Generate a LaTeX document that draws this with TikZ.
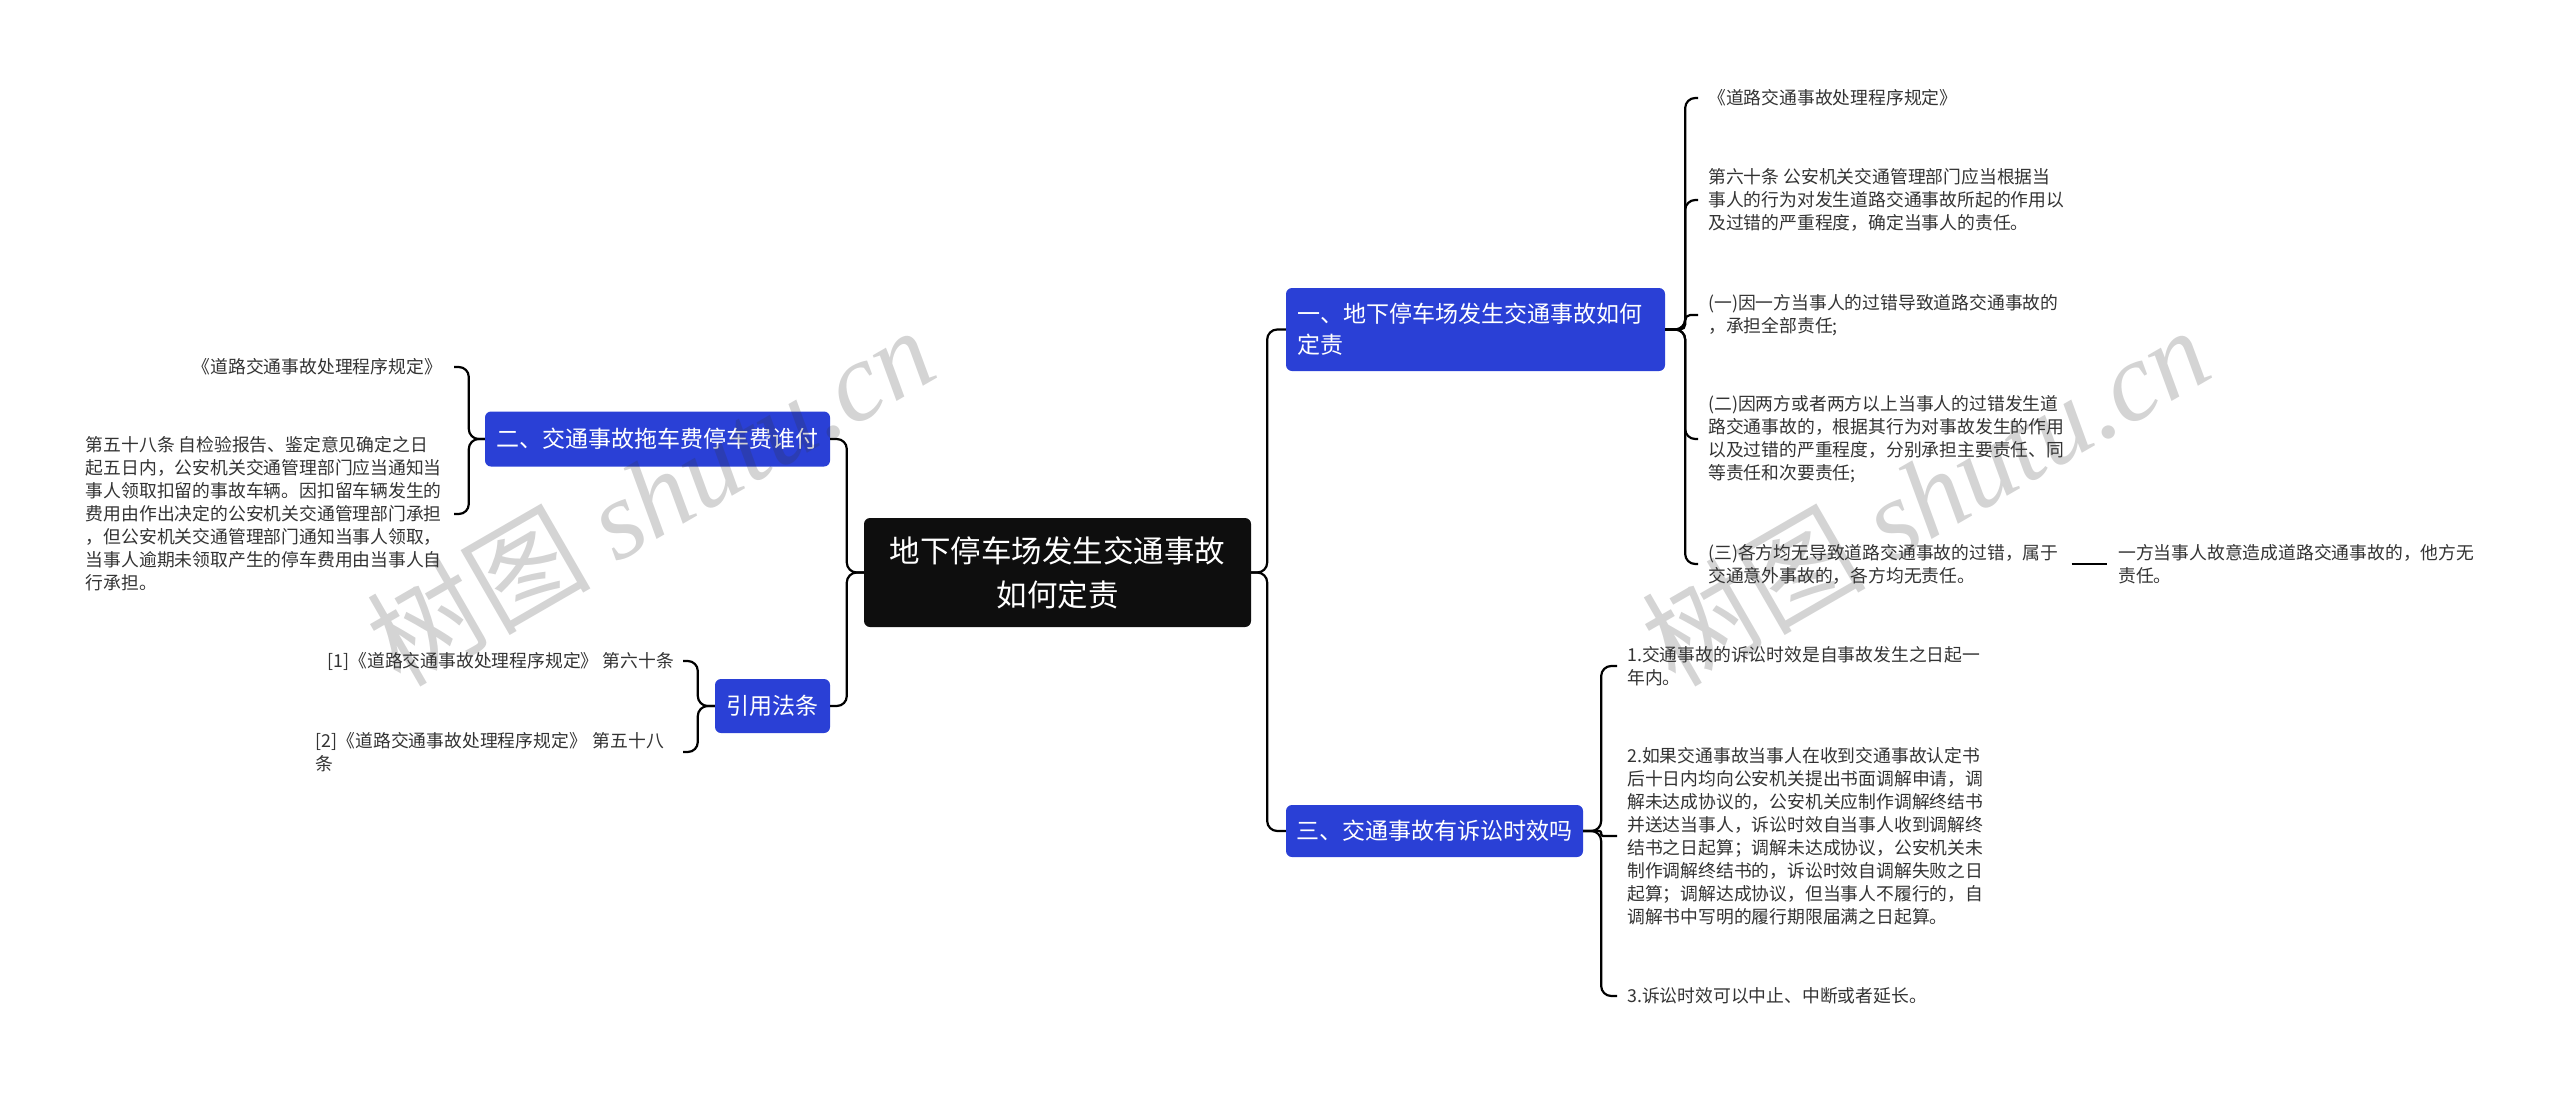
\documentclass[tikz,border=0pt]{standalone}
\usepackage{fontspec}
\setmainfont{Noto Sans CJK SC}
\newfontfamily\wmlatin{Liberation Serif}
\newfontfamily\wmcjk{Noto Sans CJK SC}
\definecolor{boxblue}{HTML}{2A40D6}
\definecolor{rootblack}{HTML}{0E0E0E}
\definecolor{leaftext}{HTML}{333333}
\begin{document}
\begin{tikzpicture}[x=1pt,y=-1pt,
  conn/.style={line width=2.2pt, rounded corners=10pt, draw=black},
  rootbox/.style={fill=rootblack, rounded corners=6pt, text=white, inner sep=0pt,
    font=\fontsize{30.5}{44}\selectfont, align=center},
  bluebox/.style={fill=boxblue, rounded corners=6pt, text=white, inner sep=0pt,
    font=\fontsize{23}{31}\selectfont},
  leaf/.style={inner sep=0pt, align=left, text=leaftext, font=\fontsize{17.8}{23}\selectfont},
  wm/.style={text=black!80, text opacity=0.21, inner sep=0pt}]
\useasboundingbox (0,0) rectangle (2560,1093);

% root
\node[rootbox, minimum width=387pt, minimum height=109pt] (root) at (1057.5,572.5)
  {地下停车场发生交通事故\\如何定责};

% main branches
\node[bluebox, text width=357pt, align=left, inner xsep=11pt, minimum height=83pt] (n1) at (1475.5,329.5)
  {一、地下停车场发生交通事故如何\\定责};
\node[bluebox, minimum width=345pt, minimum height=55pt] (n2) at (657.5,439)
  {二、交通事故拖车费停车费谁付};
\node[bluebox, minimum width=297pt, minimum height=52pt] (n3) at (1434.5,831)
  {三、交通事故有诉讼时效吗};
\node[bluebox, minimum width=115pt, minimum height=54pt] (n4) at (772.5,706)
  {引用法条};

% children of n1
\node[leaf, anchor=west] (a1) at (1708,98) {《道路交通事故处理程序规定》};
\node[leaf, anchor=west] (a2) at (1708,200) {第六十条 公安机关交通管理部门应当根据当\\事人的行为对发生道路交通事故所起的作用以\\及过错的严重程度，确定当事人的责任。};
\node[leaf, anchor=west] (a3) at (1708,315) {(一)因一方当事人的过错导致道路交通事故的\\，承担全部责任;};
\node[leaf, anchor=west] (a4) at (1708,439) {(二)因两方或者两方以上当事人的过错发生道\\路交通事故的，根据其行为对事故发生的作用\\以及过错的严重程度，分别承担主要责任、同\\等责任和次要责任;};
\node[leaf, anchor=west] (a5) at (1708,564) {(三)各方均无导致道路交通事故的过错，属于\\交通意外事故的，各方均无责任。};
\node[leaf, anchor=west] (a6) at (2118,564) {一方当事人故意造成道路交通事故的，他方无\\责任。};

% children of n3
\node[leaf, anchor=west] (c1) at (1627,666) {1.交通事故的诉讼时效是自事故发生之日起一\\年内。};
\node[leaf, anchor=west] (c2) at (1627,836) {2.如果交通事故当事人在收到交通事故认定书\\后十日内均向公安机关提出书面调解申请，调\\解未达成协议的，公安机关应制作调解终结书\\并送达当事人，诉讼时效自当事人收到调解终\\结书之日起算；调解未达成协议，公安机关未\\制作调解终结书的，诉讼时效自调解失败之日\\起算；调解达成协议，但当事人不履行的，自\\调解书中写明的履行期限届满之日起算。};
\node[leaf, anchor=west] (c3) at (1627,996) {3.诉讼时效可以中止、中断或者延长。};

% children of n2
\node[leaf, anchor=east] (b1) at (442,367) {《道路交通事故处理程序规定》};
\node[leaf, anchor=east] (b2) at (442,514) {第五十八条 自检验报告、鉴定意见确定之日\\起五日内，公安机关交通管理部门应当通知当\\事人领取扣留的事故车辆。因扣留车辆发生的\\费用由作出决定的公安机关交通管理部门承担\\，但公安机关交通管理部门通知当事人领取，\\当事人逾期未领取产生的停车费用由当事人自\\行承担。};

% children of n4
\node[leaf, anchor=east] (d1) at (674,661) {[1]《道路交通事故处理程序规定》 第六十条};
\node[leaf, anchor=east, text width=358pt] (d2) at (674,752) {[2]《道路交通事故处理程序规定》 第五十八\\条};

% connectors
\draw[conn] (root.east) -- ++(16,0) |- (n1.west);
\draw[conn] (root.east) -- ++(16,0) |- (n3.west);
\draw[conn] (root.west) -- ++(-17,0) |- (n2.east);
\draw[conn] (root.west) -- ++(-17,0) |- (n4.east);
\foreach \c in {a1,a2,a4,a5}
  \draw[conn, shorten >=10pt] (n1.east) -- ++(20,0) |- (\c.west);
\draw[conn, rounded corners=5pt, shorten >=10pt] (n1.east) -- ++(20,0) |- (a3.west);
\draw[conn, shorten <=13pt, shorten >=11pt] (a5.east) -- (a6.west);
\foreach \c in {c1,c3}
  \draw[conn, shorten >=10pt] (n3.east) -- ++(18,0) |- (\c.west);
\draw[conn, rounded corners=2pt, shorten >=10pt] (n3.east) -- ++(18,0) |- (c2.west);
\foreach \c in {b1,b2}
  \draw[conn, shorten >=12pt] (n2.west) -- ++(-16,0) |- (\c.east);
\foreach \c in {d1,d2}
  \draw[conn, shorten >=9pt] (n4.west) -- ++(-17,0) |- (\c.east);

% watermarks
\node[wm, rotate=30] (wm1) at (650,495) {\fontsize{112}{112}\selectfont{\wmcjk 树图} {\wmlatin\itshape shutu.cn}};
\node[wm, rotate=30] (wm2) at (1925,495) {\fontsize{112}{112}\selectfont{\wmcjk 树图} {\wmlatin\itshape shutu.cn}};
\end{tikzpicture}
\end{document}
